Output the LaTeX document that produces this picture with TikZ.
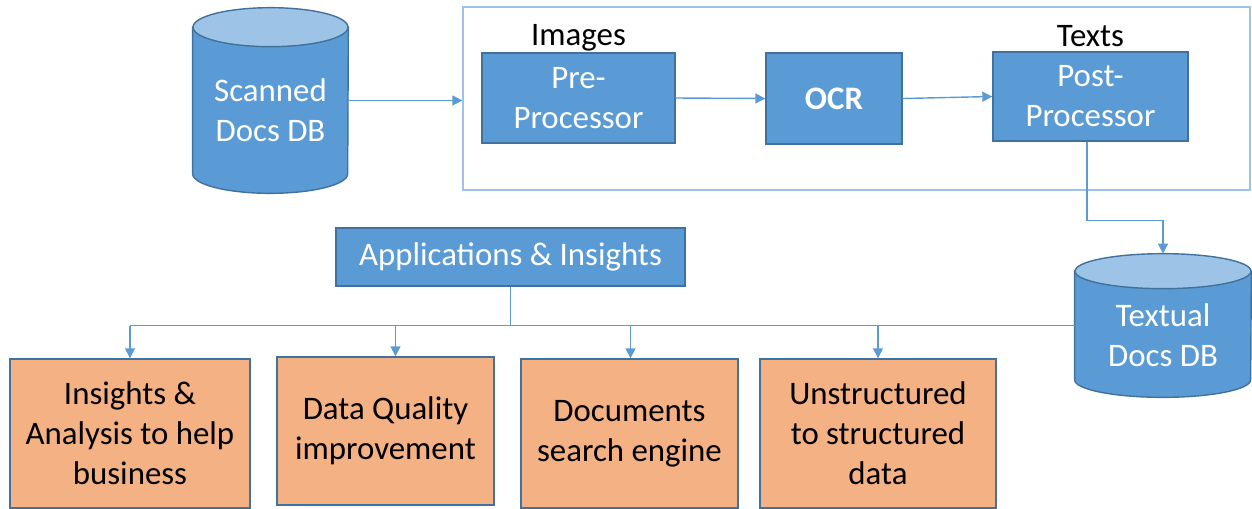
\documentclass[tikz,border=0pt]{standalone}
\usepackage{fontspec}
\setmainfont{Carlito}
\usetikzlibrary{positioning,arrows.meta,calc}

\definecolor{boxblue}{HTML}{5B9BD5}
\definecolor{boxline}{HTML}{41719C}
\definecolor{toplight}{HTML}{9DC3E6}
\definecolor{appfill}{HTML}{F4B183}
\definecolor{framecol}{HTML}{9DC3E6}

\tikzset{
  every node/.style={font=\fontsize{18.7}{22.7}\selectfont, inner sep=1pt},
  proc/.style={draw=boxline, line width=0.8pt, fill=boxblue, text=white, align=center},
  usecase/.style={draw=boxline, line width=0.8pt, fill=appfill, text=black, align=center,
    minimum height=2.98cm},
  dbbox/.style={draw=none, inner sep=0pt},
  dbtext/.style={text=white, align=center},
  dbbody/.style={draw=boxline, line width=0.8pt, fill=boxblue},
  dbtop/.style={draw=boxline, line width=0.8pt, fill=toplight},
  lbl/.style={text=black},
  link/.style={draw=boxblue, line width=0.8pt},
  flow/.style={link, -{Triangle[length=0.2cm,width=0.2cm]}}
}

% database drum fitted into the box of node #1, half width #2, lid radius #3
\newcommand{\dbshape}[3]{%
  \path[dbbody] ($(#1.north west)+(0,-#3)$) -- ($(#1.south west)+(0,#3)$)
    arc[start angle=180, end angle=360, x radius=#2, y radius=#3]
    -- ($(#1.north east)+(0,-#3)$) -- cycle;
  \path[dbtop] ($(#1.north)+(0,-#3)$) ellipse[x radius=#2, y radius=#3];
}

\begin{document}
\begin{tikzpicture}[x=0.02cm,y=0.02cm]
\useasboundingbox (0,0) rectangle (1252,-508);

% scanned store
\node[dbbox, minimum width=3.1cm, minimum height=3.7cm] (sdb) at (270.5,-100.5) {};
\dbshape{sdb}{77.5}{19.5}
\node[dbtext] (sdbtxt) at ([yshift=-0.19cm]sdb.center) {Scanned\\Docs DB};

% the OCR pipeline
\node[draw=framecol, line width=0.8pt, minimum width=15.74cm, minimum height=3.66cm] (frame) at (856.5,-98.5) {};
\node[proc, minimum width=3.86cm, minimum height=1.8cm] (pre) at (578.5,-98) {Pre-\\Processor};
\node[proc, minimum width=2.72cm, minimum height=1.82cm, font=\fontsize{18.7}{22.7}\selectfont\bfseries] (ocr) at (834,-98.5) {OCR};
\node[proc, minimum width=3.9cm, minimum height=1.78cm] (post) at (1090.5,-96.5) {Post-\\Processor};
\node[lbl, above=0.14cm of pre, anchor=base] (imglbl) {Images};
\node[lbl, above=0.09cm of post, anchor=base] (txtlbl) {Texts};

\draw[flow] (sdb.east) -- (sdb.east -| frame.west);
\draw[flow] (pre.east) -- (ocr.west);
\draw[flow] (ocr.east) -- (post.west);

% textual store
\node[dbbox, minimum width=3.52cm, minimum height=2.86cm] (tdb) at (1163,-325.5) {};
\dbshape{tdb}{88}{17.5}
\node[dbtext] (tdbtxt) at ([yshift=-0.19cm]tdb.center) {Textual\\Docs DB};
\draw[flow] ([xshift=-0.07cm]post.south) -- ++(0,-79) -| (tdb.north);

% applications
\node[proc, minimum width=6.98cm, minimum height=1.16cm] (app) at (510.5,-257) {Applications \& Insights};
\node[usecase, minimum width=4.8cm] (use1) at (130,-433.5) {Insights \&\\Analysis to help\\business};
\node[usecase, minimum width=4.34cm, minimum height=2.96cm] (use2) at (385.5,-431) {Data Quality\\improvement};
\node[usecase, minimum width=4.34cm] (use3) at (629.5,-433.5) {Documents\\search engine};
\node[usecase, minimum width=4.72cm] (use4) at (878,-433.5) {Unstructured\\to structured\\data};

\draw[link] (tdb.west) -- (use1.north |- tdb.west);
\draw[link] (app.south) -- (app.south |- tdb.west);
\foreach \u/\dx in {use1/0,use2/10,use3/1,use4/0}
  \draw[flow] ([xshift=\dx*0.02cm]\u.north |- tdb.west) -- ([xshift=\dx*0.02cm]\u.north);

\end{tikzpicture}
\end{document}
